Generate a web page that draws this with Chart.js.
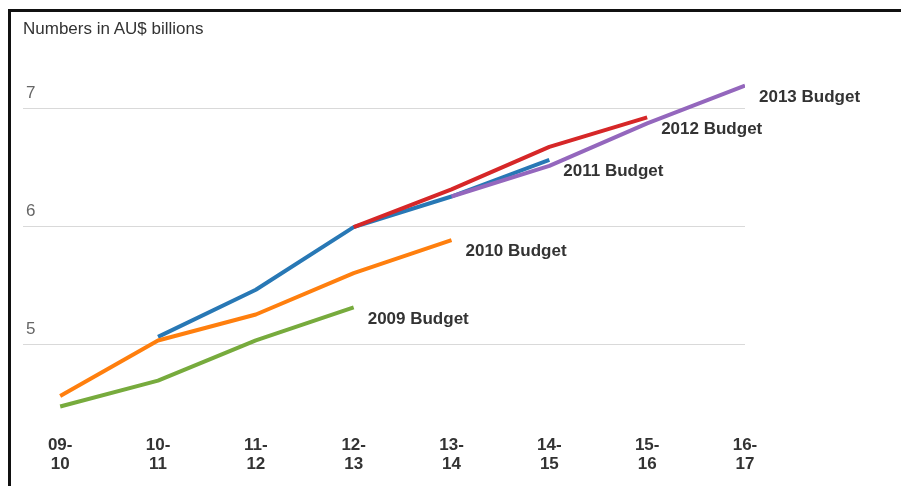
<!DOCTYPE html>
<html>
<head>
<meta charset="utf-8">
<script src="https://cdn.jsdelivr.net/npm/chart.js@4"></script>
<style>
  html, body { margin: 0; padding: 0; background: #fff; }
  #wrap { position: relative; width: 901px; height: 486px; overflow: hidden; }
  #frame {
    position: absolute; left: 8px; top: 9px; width: 1000px; height: 600px;
    border-top: 3px solid #111; border-left: 3px solid #111;
  }
  #title {
    position: absolute; left: 23px; top: 20px;
    font: 17px/17px "Liberation Sans", Arial, sans-serif; color: #333;
  }
  canvas { position: absolute; left: 0; top: 0; }
</style>
</head>
<body>
<div id="wrap">
  <div id="frame"></div>
  <canvas id="budgetChart" width="901" height="486"></canvas>
  <div id="title">Numbers in AU$ billions</div>
</div>
<script>
// --- Data ---
const categories = ['09-10', '10-11', '11-12', '12-13', '13-14', '14-15', '15-16', '16-17'];
const yTicks = [5, 6, 7];

const budget2009 = [4.47, 4.69, 5.03, 5.31, null, null, null, null];
const budget2010 = [4.56, 5.03, 5.25, 5.60, 5.88, null, null, null];
const budget2011 = [null, 5.06, 5.46, 5.99, 6.25, 6.56, null, null];
const budget2012 = [null, null, null, 5.99, 6.31, 6.67, 6.92, null];
const budget2013 = [null, null, null, null, 6.25, 6.51, 6.87, 7.19];

const FONT = '"Liberation Sans", Arial, sans-serif';

function toPoints(values) {
  return values.map((v, i) => ({ x: i, y: v }));
}

function series(label, values, color, order) {
  return {
    label,
    data: toPoints(values),
    borderColor: color,
    backgroundColor: color,
    borderWidth: 4,
    pointRadius: 0,
    tension: 0,
    spanGaps: false,
    borderJoinStyle: 'round',
    order
  };
}

// --- End-of-line labels ---
const endLabels = {
  id: 'endLabels',
  afterDatasetsDraw(chart) {
    const { ctx } = chart;
    ctx.save();
    ctx.font = 'bold 17px ' + FONT;
    ctx.fillStyle = '#333';
    ctx.textAlign = 'left';
    ctx.textBaseline = 'middle';
    chart.data.datasets.forEach((ds, i) => {
      const meta = chart.getDatasetMeta(i);
      let last = null;
      ds.data.forEach((p, j) => { if (p.y !== null) last = meta.data[j]; });
      if (last) ctx.fillText(ds.label, last.x + 14, last.y + 11.5);
    });
    ctx.restore();
  }
};

new Chart(document.getElementById('budgetChart'), {
  type: 'line',
  data: {
    datasets: [
      series('2009 Budget', budget2009, '#77ab3d', 4),
      series('2010 Budget', budget2010, '#ff7f0e', 2),
      series('2011 Budget', budget2011, '#2878b5', 3),
      series('2012 Budget', budget2012, '#d62728', 1),
      series('2013 Budget', budget2013, '#9467bd', 0)
    ]
  },
  options: {
    responsive: false,
    animation: false,
    layout: { padding: { left: 17, top: 49, right: 156, bottom: 0 } },
    plugins: { legend: { display: false }, tooltip: { enabled: false } },
    scales: {
      x: {
        type: 'linear',
        min: -0.38,
        max: 7,
        afterBuildTicks: s => { s.ticks = categories.map((c, i) => ({ value: i })); },
        afterFit: s => { s.height = 53.5; },
        grid: { display: false, drawTicks: false },
        border: { display: false },
        ticks: {
          padding: 3,
          maxRotation: 0,
          autoSkip: false,
          color: '#333',
          font: { family: FONT, size: 17, weight: 'bold', lineHeight: 1.12 },
          callback: v => {
            const parts = categories[v].split('-');
            return [parts[0] + '-', parts[1]];
          }
        }
      },
      y: {
        min: 4.25,
        max: 7.5,
        afterBuildTicks: s => { s.ticks = yTicks.map(v => ({ value: v })); },
        grid: { color: '#d9d9d9', lineWidth: 1, drawTicks: false },
        border: { display: false },
        ticks: {
          mirror: true,
          padding: 3,
          labelOffset: -15,
          color: '#666',
          font: { family: FONT, size: 17 }
        }
      }
    }
  },
  plugins: [endLabels]
});
</script>
</body>
</html>
